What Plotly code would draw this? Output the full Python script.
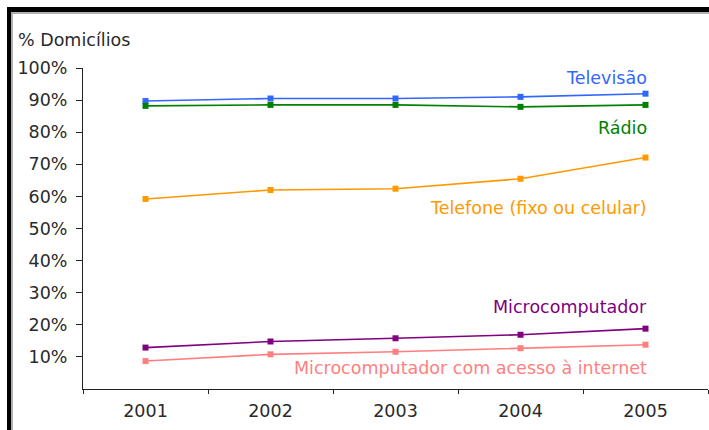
import plotly.graph_objects as go

years = ["2001", "2002", "2003", "2004", "2005"]
televisao = [89.7, 90.5, 90.5, 91.0, 92.0]
radio = [88.2, 88.5, 88.5, 87.9, 88.5]
telefone = [59.2, 62.0, 62.4, 65.5, 72.1]
micro = [12.9, 14.8, 15.8, 16.9, 18.8]
internet = [8.7, 10.8, 11.6, 12.7, 13.8]

series = [
    ("Televisão", televisao, "#3366FF", 96.9),
    ("Rádio", radio, "#008000", 81.3),
    ("Telefone (fixo ou celular)", telefone, "#FF9900", 56.4),
    ("Microcomputador", micro, "#800080", 25.5),
    ("Microcomputador com acesso à internet", internet, "#FF7F7F", 6.5),
]
y_ticks = [10, 20, 30, 40, 50, 60, 70, 80, 90, 100]

FONT = "DejaVu Sans"
FS = 17.5
TXT = "#2a2a2a"
W, H = 709, 430
ML, MR, MT, MB = 83, 1, 68, 41
PW, PH = W - ML - MR, H - MT - MB

def px(x):
    return (x - ML) / PW

def py(y):
    return (H - MB - y) / PH

fig = go.Figure()
annotations = []
for name, vals, color, ly in series:
    fig.add_trace(go.Scatter(
        x=years, y=vals, mode="lines+markers", name=name,
        line=dict(color=color, width=1.6),
        marker=dict(symbol="square", size=6, color=color),
        showlegend=False, hoverinfo="skip",
    ))
    annotations.append(dict(
        x=len(years) - 1, y=ly, xref="x", yref="y", text=name,
        showarrow=False, xanchor="right", yanchor="middle", xshift=3,
        font=dict(family=FONT, size=FS, color=color),
    ))

annotations.append(dict(
    x=px(16), y=py(40), xref="paper", yref="paper", text="% Domicílios",
    showarrow=False, xanchor="left", yanchor="middle",
    font=dict(family=FONT, size=FS, color=TXT),
))

shapes = [
    dict(type="rect", xref="paper", yref="paper", x0=px(7), x1=px(11), y0=py(431), y1=py(7),
         fillcolor="black", line=dict(width=0), layer="above"),
    dict(type="rect", xref="paper", yref="paper", x0=px(7), x1=px(710), y0=py(12), y1=py(7),
         fillcolor="black", line=dict(width=0), layer="above"),
    dict(type="rect", xref="paper", yref="paper", x0=px(11), x1=px(13), y0=py(431), y1=py(12),
         fillcolor="#B0B0B0", line=dict(width=0), layer="above"),
    dict(type="rect", xref="paper", yref="paper", x0=px(11), x1=px(710), y0=py(14), y1=py(12),
         fillcolor="#B0B0B0", line=dict(width=0), layer="above"),
]

fig.update_layout(
    width=W, height=H,
    margin=dict(l=ML, r=MR, t=MT, b=MB, pad=0),
    paper_bgcolor="white", plot_bgcolor="white",
    annotations=annotations, shapes=shapes,
    font=dict(family=FONT, size=FS, color=TXT),
)
fig.update_xaxes(
    type="category", range=[-0.5, 4.5], showgrid=False, zeroline=False,
    showline=True, linecolor="#222222", linewidth=1,
    ticks="outside", tickson="boundaries", ticklen=4, tickcolor="#222222",
    ticklabelstandoff=6,
    tickfont=dict(family=FONT, size=FS, color=TXT),
)
fig.update_yaxes(
    range=[0, 100], showgrid=False, zeroline=False,
    showline=True, linecolor="#222222", linewidth=1,
    tickvals=y_ticks, ticktext=[f"{v}%" for v in y_ticks],
    ticks="outside", ticklen=6, tickcolor="#222222",
    ticklabelstandoff=5,
    tickfont=dict(family=FONT, size=FS, color=TXT),
)

fig.write_html(
    "out.html",
    config={"displayModeBar": False},
    post_script="document.body.style.margin='0';document.body.style.overflow='hidden';",
)
